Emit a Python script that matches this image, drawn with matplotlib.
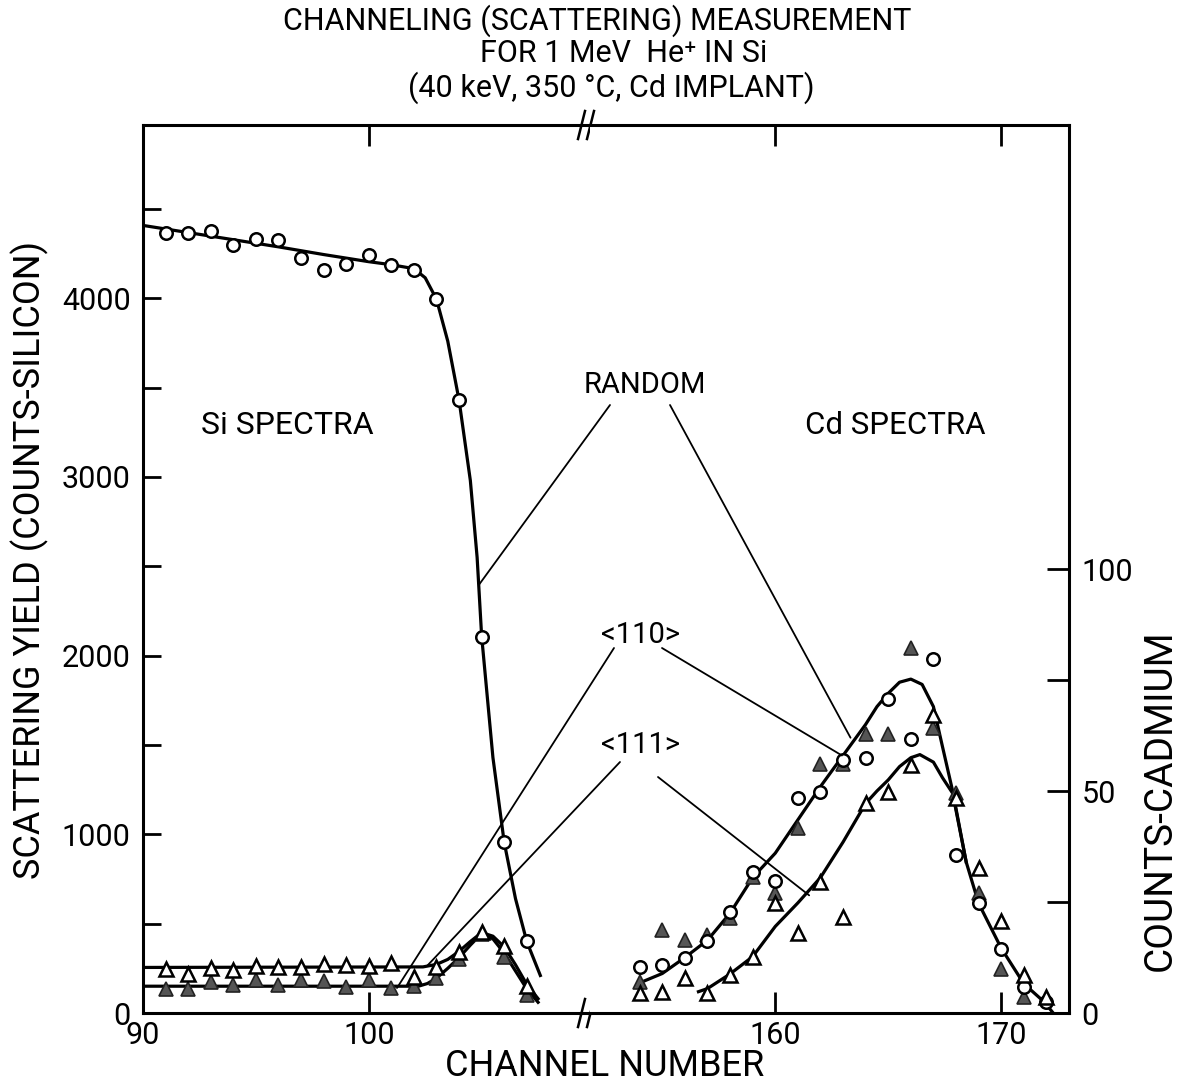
import matplotlib
matplotlib.use('Agg')
import matplotlib.pyplot as plt
from matplotlib.patches import ConnectionPatch

plt.rcParams['font.family'] = ['Roboto', 'DejaVu Sans']

# ---- Si spectra (counts-silicon), channels 91-107
si_ch = [91, 92, 93, 94, 95, 96, 97, 98, 99, 100, 101, 102, 103, 104, 105, 106, 107]
si_random = [4365, 4365, 4378, 4296, 4332, 4328, 4225, 4161, 4192, 4242, 4188, 4157, 3995, 3429, 2106, 955, 402]
si_111 = [244, 216, 250, 240, 263, 255, 255, 274, 268, 263, 278, 203, 255, 342, 455, 376, 150]
si_110 = [132, 132, 175, 156, 184, 156, 184, 180, 147, 184, 138, 151, 194, 305, 440, 315, 100]

# hand drawn fit curves (Si)
si_rnd_fit_ch = [90, 92, 94, 96, 98, 100, 101, 102, 102.5, 103, 103.5, 104, 104.5, 104.8, 105, 105.5, 106, 106.5, 107, 107.6]
si_rnd_fit = [4408, 4368, 4328, 4288, 4245, 4205, 4188, 4166, 4115, 3995, 3760, 3430, 2980, 2550, 2110, 1430, 955, 640, 400, 210]
si_111_fit_ch = [90, 102.4, 103, 103.5, 104, 104.5, 105, 105.5, 106, 106.5, 107, 107.5]
si_111_fit = [255, 258, 272, 300, 345, 400, 450, 430, 370, 270, 160, 80]
si_110_fit_ch = [90, 102.2, 102.6, 103, 103.5, 104, 104.5, 105, 105.5, 106, 106.5, 107, 107.5]
si_110_fit = [150, 150, 165, 195, 250, 310, 380, 445, 415, 335, 235, 135, 60]

# ---- Cd spectra (counts-cadmium), channels 154-172
cd_ch = [154, 155, 156, 157, 158, 159, 160, 161, 162, 163, 164, 165, 166, 167, 168, 169, 170, 171, 172]
cd_random = [10.4, 10.7, 12.5, 16.3, 22.7, 31.8, 29.8, 48.5, 49.8, 57.0, 57.5, 70.7, 61.7, 79.7, 35.6, 24.7, 14.4, 5.8, 2.5]
cd_111 = [4.4, 4.8, 7.8, 4.6, 8.6, 12.7, 24.7, 18.1, 29.6, 21.7, 47.2, 49.8, 55.9, 67.1, 48.4, 32.6, 20.8, 8.6, 3.7]
cd_110_ch = [154, 155, 156, 157, 158, 159, 160, 161, 162, 163, 164, 165, 166, 167, 168, 169, 170, 171]
cd_110 = [7.0, 18.7, 16.4, 17.6, 21.3, 30.7, 27.0, 41.6, 56.1, 56.1, 62.8, 62.8, 82.1, 64.1, 49.6, 27.0, 9.8, 3.7]

# hand drawn fit curves (Cd)
cd_up_fit_ch = [154.1, 155, 156, 157, 158, 159, 160, 161, 162, 163, 164, 164.5, 165, 165.5, 166, 166.5, 167, 167.4, 167.85, 168.45, 169, 170, 171, 171.9, 172.3]
cd_up_fit = [7.0, 8.9, 12.5, 16.4, 22.5, 30.5, 36, 43.5, 51, 58, 65, 69, 72, 74.5, 75.2, 74, 69, 60, 50, 34, 24.7, 14.6, 6.6, 2.5, 0]
cd_low_fit_ch = [156.6, 157, 158, 159, 160, 161, 162, 163, 164, 164.5, 165, 165.5, 166, 166.4, 167, 167.4, 167.85, 168.45]
cd_low_fit = [4.8, 5.5, 8.8, 12.7, 19.5, 24.8, 30.5, 38.5, 47.2, 50, 52.5, 55.5, 57.5, 58.2, 56.5, 53, 49.5, 34]

fig = plt.figure(figsize=(11.85, 10.88), dpi=100)
axL = fig.add_axes([0.12068, 0.06893, 0.37721, 0.81618])
axR = fig.add_axes([0.49789, 0.06893, 0.40422, 0.81618])

lw_sp = 2.2
for ax in (axL, axR):
    for s in ax.spines.values():
        s.set_linewidth(lw_sp)
axL.spines['right'].set_visible(False)
axR.spines['left'].set_visible(False)

axL.set_xlim(90, 109.8)
axL.set_ylim(0, 4970)
axR.set_xlim(151.8, 173)
axR.set_ylim(0, 200)

# curves
axL.plot(si_rnd_fit_ch, si_rnd_fit, color='black', lw=2.3, zorder=2)
axL.plot(si_111_fit_ch, si_111_fit, color='black', lw=2.3, zorder=2)
axL.plot(si_110_fit_ch, si_110_fit, color='black', lw=2.3, zorder=2)
axR.plot(cd_up_fit_ch, cd_up_fit, color='black', lw=2.3, zorder=2)
axR.plot(cd_low_fit_ch, cd_low_fit, color='black', lw=2.3, zorder=2)

# markers
circ = dict(marker='o', ls='none', ms=9, mfc='white', mec='black', mew=1.8, zorder=4)
otri = dict(marker='^', ls='none', ms=10, mfc='white', mec='black', mew=1.8, zorder=4)
ftri = dict(marker='^', ls='none', ms=10, mfc='#555555', mec='#222222', mew=1.2, zorder=3)
axL.plot(si_ch, si_random, **circ)
axL.plot(si_ch, si_111, **otri)
axL.plot(si_ch, si_110, **ftri)
axR.plot(cd_ch, cd_random, **circ)
axR.plot(cd_ch, cd_111, **otri)
axR.plot(cd_110_ch, cd_110, **ftri)

# ticks
axL.set_xticks([90, 100])
axL.set_xticklabels(['90', '100'])
axL.set_yticks(range(0, 4600, 500))
axL.set_yticklabels([str(v) if v % 1000 == 0 else '' for v in range(0, 4600, 500)])
axL.tick_params(axis='x', direction='in', length=15, width=2, top=True, labelsize=22, pad=6)
axL.tick_params(axis='y', direction='in', length=13, width=2, right=False, labelsize=22, pad=9)

axR.set_xticks([160, 170])
axR.set_xticklabels(['160', '170'])
axR.yaxis.tick_right()
axR.set_yticks([0, 25, 50, 75, 100])
axR.set_yticklabels(['0', '', '50', '', '100'])
axR.tick_params(axis='x', direction='in', length=15, width=2, top=True, labelsize=22, pad=6)
axR.tick_params(axis='y', direction='in', length=16, width=2, left=False, right=True, labelsize=22, pad=9)

# break marks on the channel axis
wpx, hpx = 447.0, 888.0
for yb in (0, 1):
    for off in (0, 9):
        axL.plot([1 - (12 - off) / wpx, 1 - (5 - off) / wpx], [yb - 14 / hpx, yb + 14 / hpx],
                 transform=axL.transAxes, color='black', lw=1.8, clip_on=False, zorder=6)

# labels
def fx(px):
    return px / 1185.0

def fy(py):
    return 1 - py / 1088.0

fig.text(fx(597), fy(21), 'CHANNELING (SCATTERING) MEASUREMENT', ha='center', va='center', fontsize=22)
fig.text(fx(624), fy(53), 'FOR 1 MeV  He\u207a IN Si', ha='center', va='center', fontsize=22)
fig.text(fx(611), fy(88), '(40 keV, 350 \u00b0C, Cd IMPLANT)', ha='center', va='center', fontsize=22)
fig.text(fx(605), fy(1066), 'CHANNEL NUMBER', ha='center', va='center', fontsize=26)
fig.text(fx(30), fy(560), 'SCATTERING YIELD (COUNTS-SILICON)', ha='center', va='center', rotation=90, fontsize=26)
fig.text(fx(1160), fy(800), 'COUNTS-CADMIUM', ha='center', va='center', rotation=90, fontsize=28)

fig.text(fx(287), fy(425), 'Si SPECTRA', ha='center', va='center', fontsize=23)
fig.text(fx(895), fy(425), 'Cd SPECTRA', ha='center', va='center', fontsize=22.5)
fig.text(fx(645), fy(385), 'RANDOM', ha='center', va='center', fontsize=21)
fig.text(fx(640), fy(635), '<110>', ha='center', va='center', fontsize=21)
fig.text(fx(640), fy(745), '<111>', ha='center', va='center', fontsize=21)

# leader lines: (label end in figure px, point in data, axes)
leaders = [
    ((610, 405), (104.9, 2400), axL),
    ((670, 405), (163.33, 62), axR),
    ((614, 648), (101.25, 140), axL),
    ((662, 648), (162.95, 58), axR),
    ((620, 762), (102.57, 262), axL),
    ((658, 777), (161.5, 26.5), axR),
]
for (px, py), (dx, dy), ax in leaders:
    con = ConnectionPatch(xyA=(fx(px), fy(py)), coordsA=fig.transFigure,
                          xyB=(dx, dy), coordsB=ax.transData,
                          color='black', lw=1.3, zorder=5)
    fig.add_artist(con)

fig.savefig('out.png', dpi=100, facecolor='white')
